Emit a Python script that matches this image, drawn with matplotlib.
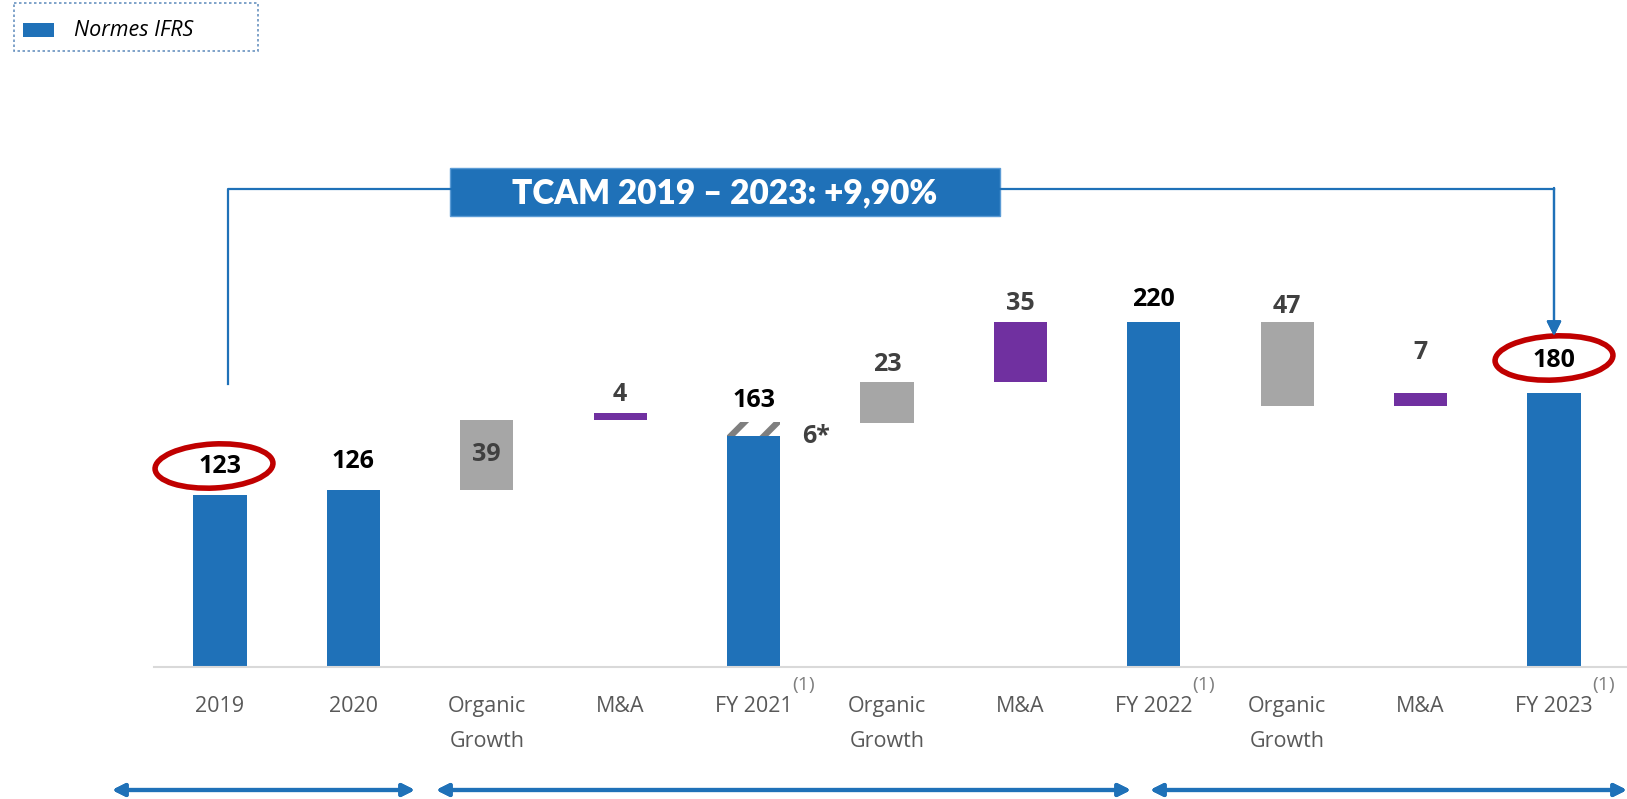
import matplotlib
matplotlib.use('Agg')
import matplotlib.pyplot as plt
import matplotlib.transforms as mtransforms
from matplotlib.patches import Rectangle, Ellipse
import numpy as np

# data (axis starts around 26.6, not 0)
categories = ['2019', '2020', 'Organic\nGrowth', 'M&A', 'FY 2021', 'Organic\nGrowth',
              'M&A', 'FY 2022', 'Organic\nGrowth', 'M&A', 'FY 2023']
bar_bottom = [0, 0, 126, 165, 0, 163, 186, 0, 173, 173, 0]
bar_top = [123, 126, 165, 169, 156, 186, 220, 220, 220, 180, 180]
bar_kind = ['total', 'total', 'organic', 'mna', 'total', 'organic', 'mna',
            'total', 'organic', 'mna', 'total']
value_labels = ['123', '126', '39', '4', '163', '23', '35', '220', '47', '7', '180']
adjust_bottom = 156   # hatched part of FY 2021
adjust_top = 164
adjust_label = '6*'
footnote_bars = [4, 7, 10]

BLUE = '#1f71b8'
GREY = '#a6a6a6'
PURPLE = '#7030a0'
kind_color = {'total': BLUE, 'organic': GREY, 'mna': PURPLE}

W, H = 1627, 799
fig = plt.figure(figsize=(W / 100, H / 100), dpi=100)
# pixel coordinates measured from top-left of the picture
px = mtransforms.Affine2D().scale(1 / W, -1 / H).translate(0, 1) + fig.transFigure

base_px = 667.2      # baseline row
ppu = 1.787          # pixels per unit
y0 = 26.6            # value at the baseline
x0_px, step_px = 220, 133.4

ax = fig.add_axes([0, (H - base_px) / H, 1, base_px / H])
ax.set_xlim(-x0_px / step_px, 10 + (W - 1554) / step_px)
ax.set_ylim(y0, y0 + base_px / ppu)
ax.patch.set_alpha(0)

x = np.arange(len(categories))
heights = np.array(bar_top) - np.array(bar_bottom)
colors = [kind_color[k] for k in bar_kind]
ax.bar(x, heights, bottom=bar_bottom, width=0.4, color=colors, lw=0)

plt.rcParams['hatch.linewidth'] = 4.5
ax.bar(4, adjust_top - adjust_bottom, bottom=adjust_bottom, width=0.4,
       color='white', edgecolor='#7f7f7f', hatch='/', lw=0)

for s in ['top', 'left', 'right']:
    ax.spines[s].set_visible(False)
ax.spines['bottom'].set_color('#d9d9d9')
ax.spines['bottom'].set_linewidth(1.5)
ax.spines['bottom'].set_bounds((153.6 - x0_px) / step_px, ax.get_xlim()[1])
ax.set_yticks([])
ax.set_xticks(x)
ax.set_xticklabels(categories, fontsize=15.5, color='#595959', family='Open Sans',
                   linespacing=1.85, va='top')
ax.tick_params(axis='x', length=0, pad=21)

# value labels
label_font = dict(family='Open Sans', fontweight='bold', fontsize=18)
offsets = {0: 28, 1: 28, 4: 21, 7: 22, 8: 15, 9: 41, 10: 33}
for i, lab in enumerate(value_labels):
    col = 'black' if bar_kind[i] == 'total' else '#404040'
    if i == 2:
        ax.text(i, (bar_bottom[i] + bar_top[i]) / 2, lab, ha='center', va='center',
                color=col, **label_font)
        continue
    top = adjust_top if i == 4 else bar_top[i]
    ax.annotate(lab, (i, top), xytext=(0, offsets.get(i, 18)),
                textcoords='offset pixels', ha='center', va='center',
                color=col, **label_font)
ax.annotate(adjust_label, (4, (adjust_bottom + adjust_top) / 2), xytext=(62, -8),
            textcoords='offset pixels', ha='center', va='center',
            color='#404040', **label_font)

for i in footnote_bars:
    ax.annotate('(1)', (i, y0), xytext=(50, -18), textcoords='offset pixels',
                ha='center', va='center', fontsize=14, color='#7f7f7f',
                family='Open Sans', annotation_clip=False)

# red circles around the 2019 and 2023 values
for cx, cy in [(214, 466), (1554, 358)]:
    fig.patches.append(Ellipse((cx, cy), 118, 44, angle=-3, fill=False,
                               ec='#c00000', lw=4, transform=px))

# CAGR connector
fig.lines.append(plt.Line2D([228, 228, 1554], [384, 189, 189], color=BLUE,
                            lw=1.6, transform=px))
fig.add_artist(plt.annotate('', xy=(1554, 336), xytext=(1554, 188), xycoords=px,
                            textcoords=px,
                            arrowprops=dict(arrowstyle='-|>', color=BLUE, lw=1.6,
                                            mutation_scale=22, shrinkA=0, shrinkB=0)))
fig.patches.append(Rectangle((450, 168), 550, 48, facecolor=BLUE, ec='#5b9bd5',
                             lw=1, transform=px))
fig.text(725, 193, 'TCAM 2019 – 2023: +9,90%', transform=px, ha='center',
         va='center', color='white', fontsize=24, fontweight='heavy',
         family=['Lato', 'DejaVu Sans'])

# legend
fig.patches.append(Rectangle((14.5, 3), 243.5, 48, fill=False, ec='#6a93c0',
                             lw=1.2, ls=(0, (1.5, 1.5)), transform=px))
fig.patches.append(Rectangle((23, 23), 31, 14, facecolor=BLUE, lw=0, transform=px))
fig.text(74, 30, 'Normes IFRS', transform=px, ha='left', va='center',
         fontsize=15.5, style='italic', family='Open Sans', color='black')

# period arrows at the bottom
for a, b in [(112, 415), (436, 1131), (1150, 1627)]:
    fig.add_artist(plt.annotate('', xy=(b, 790), xytext=(a, 790), xycoords=px,
                                textcoords=px,
                                arrowprops=dict(arrowstyle='<|-|>', color=BLUE, lw=3,
                                                mutation_scale=18, shrinkA=0,
                                                shrinkB=0)))

fig.savefig('out.png', dpi=100)
